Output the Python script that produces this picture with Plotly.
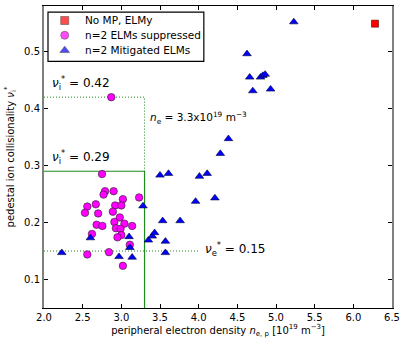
import plotly.graph_objects as go

# No MP, ELMy
elmy_ne = [6.28]
elmy_nu = [0.549]

# n=2 ELMs suppressed
supp_ne = [2.87, 2.75, 2.79, 2.77, 2.90, 3.23, 3.02, 2.56, 2.67, 2.92,
           3.00, 2.53, 2.70, 2.89, 2.98, 2.91, 3.04, 2.68, 2.755, 3.14,
           2.93, 2.99, 3.00, 2.95, 2.62, 3.11, 2.56, 2.84, 3.02]
supp_nu = [0.420, 0.285, 0.255, 0.249, 0.255, 0.244, 0.241, 0.228, 0.232, 0.230,
           0.230, 0.217, 0.216, 0.219, 0.209, 0.201, 0.198, 0.196, 0.194, 0.194,
           0.190, 0.189, 0.178, 0.174, 0.180, 0.161, 0.144, 0.148, 0.124]

# n=2 mitigated ELMs
mit_ne = [2.23, 2.60, 2.97, 3.10, 3.11, 3.14, 3.28, 3.35, 3.40, 3.43,
          3.535, 3.57, 3.57, 3.50, 3.61, 3.76, 3.96, 4.01, 4.11, 4.21,
          4.28, 4.385, 4.625, 4.66, 4.70, 4.80, 4.83, 4.86, 4.93, 5.23]
mit_nu = [0.147, 0.173, 0.140, 0.175, 0.156, 0.139, 0.229, 0.169, 0.176, 0.182,
          0.203, 0.167, 0.147, 0.283, 0.286, 0.203, 0.237, 0.281, 0.286, 0.243,
          0.321, 0.347, 0.496, 0.455, 0.431, 0.455, 0.458, 0.460, 0.434, 0.552]

# threshold values
ne_lim = 3.3
nui_hi = 0.42
nui_lo = 0.29
nue_lim = 0.15
nue_end = 4.0
x_min, x_max = 2.0, 6.5
y_min, y_max = 0.05, 0.58

legend_names = ["No MP, ELMy", "n=2 ELMs suppressed", "n=2 Mitigated ELMs"]

GREEN = "#1e8c1e"
DOT = "1px,2px"

styles = [
    dict(symbol="square", size=7, color="#ff0000", line=dict(color="#550000", width=0.6)),
    dict(symbol="circle", size=7.5, color="#ff00ff", line=dict(color="#222222", width=0.6)),
    dict(symbol="triangle-up", size=7.5, color="#0000ff", line=dict(color="#000033", width=0.6)),
]

fig = go.Figure()

# dotted box for nu_i* = 0.42
fig.add_trace(go.Scatter(x=[x_min, ne_lim, ne_lim], y=[nui_hi, nui_hi, nui_lo],
                         mode="lines", line=dict(color=GREEN, width=1, dash=DOT),
                         hoverinfo="skip"))
# solid box for nu_i* = 0.29
fig.add_trace(go.Scatter(x=[x_min, ne_lim, ne_lim], y=[nui_lo, nui_lo, y_min],
                         mode="lines", line=dict(color=GREEN, width=1.2),
                         hoverinfo="skip"))
# dotted nu_e* = 0.15
fig.add_trace(go.Scatter(x=[x_min, nue_end], y=[nue_lim, nue_lim],
                         mode="lines", line=dict(color=GREEN, width=1, dash=DOT),
                         hoverinfo="skip"))

for xs, ys, name, st in zip([elmy_ne, supp_ne, mit_ne], [elmy_nu, supp_nu, mit_nu],
                            legend_names, styles):
    fig.add_trace(go.Scatter(x=xs, y=ys, mode="markers", name=name, marker=st,
                             cliponaxis=False))

# hand-made legend (plotly's own legend rows are taller than the original)
leg_y = [0.952, 0.903, 0.853]
fig.add_trace(go.Scatter(x=[0.0595] * 3, y=leg_y, mode="markers",
                         marker=dict(symbol=[s["symbol"] for s in styles],
                                     size=[8, 8, 8.5],
                                     color=[s["color"] for s in styles],
                                     line=dict(color="#111111", width=0.6)),
                         xaxis="x2", yaxis="y2", hoverinfo="skip"))
fig.add_shape(type="rect", xref="paper", yref="paper", x0=0.0115, x1=0.4593,
              y0=0.8167, y1=0.9795, line=dict(color="black", width=1.2),
              fillcolor="white", layer="below")
for name, yy in zip(legend_names, leg_y):
    fig.add_annotation(x=0.1116, y=yy, xref="paper", yref="paper", xanchor="left",
                       yanchor="middle", showarrow=False, text=name,
                       font=dict(size=10.5, color="black"))

ann_font = dict(family="DejaVu Sans", size=12, color="black")
fig.add_annotation(x=2.08, y=0.444, xanchor="left", yanchor="middle", showarrow=False,
                   text="<i>ν</i><sub>i</sub><sup>*</sup> = 0.42", font=ann_font)
fig.add_annotation(x=2.08, y=0.315, xanchor="left", yanchor="middle", showarrow=False,
                   text="<i>ν</i><sub>i</sub><sup>*</sup> = 0.29", font=ann_font)
fig.add_annotation(x=4.06, y=0.153, xanchor="left", yanchor="middle", showarrow=False,
                   text="<i>ν</i><sub>e</sub><sup>*</sup> = 0.15", font=ann_font)
fig.add_annotation(x=3.35, y=0.383, xanchor="left", yanchor="middle", showarrow=False,
                   text="<i>n</i><sub>e</sub> = 3.3x10<sup>19</sup> m<sup>−3</sup>",
                   font=dict(family="DejaVu Sans", size=10.5, color="black"))

fig.update_layout(
    width=407, height=347,
    margin=dict(l=44, r=15, t=6, b=39),
    paper_bgcolor="white", plot_bgcolor="white",
    font=dict(family="DejaVu Sans", size=10, color="black"),
    showlegend=False,
    xaxis=dict(range=[x_min, x_max], tickvals=[2.0, 2.5, 3.0, 3.5, 4.0, 4.5, 5.0, 5.5, 6.0, 6.5],
               tickformat=".1f", ticks="inside", ticklen=4, tickcolor="black",
               showgrid=False, zeroline=False, showline=True, linecolor="black",
               linewidth=1.2, mirror="ticks",
               title=dict(text="peripheral electron density <i>n</i><sub>e, p</sub> [10<sup>19</sup> m<sup>−3</sup>]",
                          font=dict(size=10), standoff=4)),
    yaxis=dict(range=[y_min, y_max], tickvals=[0.1, 0.2, 0.3, 0.4, 0.5],
               tickformat=".1f", ticks="inside", ticklen=4, tickcolor="black",
               showgrid=False, zeroline=False, showline=True, linecolor="#808080",
               linewidth=2, mirror="ticks",
               title=dict(text="pedestal ion collisionality <i>ν</i><sub>i</sub><sup>*</sup>",
                          font=dict(size=10), standoff=8)),
    xaxis2=dict(overlaying="x", range=[0, 1], visible=False, fixedrange=True),
    yaxis2=dict(overlaying="y", range=[0, 1], visible=False, fixedrange=True),
)

fig.write_html("out.html", config={"displayModeBar": False},
               post_script="document.body.style.margin='0';")
